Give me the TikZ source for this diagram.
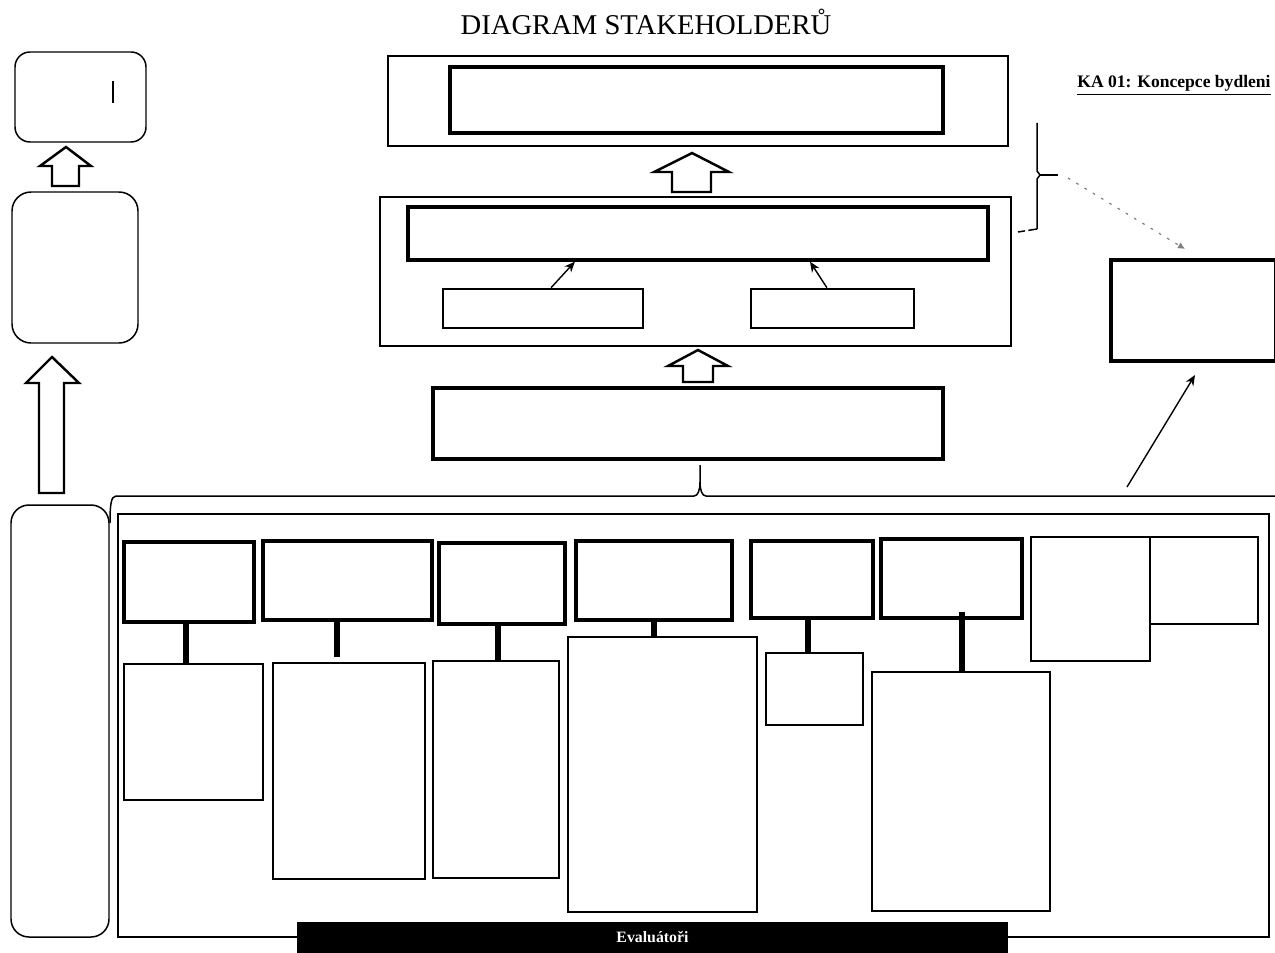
\documentclass[tikz,border=0pt]{standalone}
\usepackage{fontspec}
\setmainfont{Liberation Serif}
\usetikzlibrary{fit,calc,arrows.meta}
\begin{document}
\begin{tikzpicture}[x=0.02cm,y=-0.02cm,
 thinbox/.style={draw,line width=0.85pt,inner sep=0pt},
 thickbox/.style={draw,line width=1.9pt,inner sep=0pt},
 medbox/.style={draw,line width=1.5pt,inner sep=0pt},
 roundbox/.style={draw,line width=0.85pt,inner sep=0pt,rounded corners=0.3cm},
 blockarrow/.style={draw,line width=1.4pt,fill=white,line join=miter},
 conn/.style={line width=3pt},
 thinarrow/.style={line width=0.8pt,-{Stealth[length=6pt,width=5pt]}},
 thinline/.style={line width=0.85pt},
]
\useasboundingbox (0,0) rectangle (1275,953);

% title and label
\node[anchor=base,inner sep=0pt,font=\fontsize{16.3}{18}\selectfont] (title) at (646,35) {DIAGRAM STAKEHOLDERŮ};
\node[anchor=base west,inner sep=0pt,font=\bfseries\fontsize{10}{12}\selectfont] (ka) at (1077,88) {\underline{KA 01: Koncepce bydleni}};

% left column
\node[roundbox,rounded corners=0.3cm,fit={(15,52)(146,142)}] (lb1) {};
\draw[line width=1.1pt] (113,81) -- (113,103);
\draw[blockarrow] (66,147) -- (91,166) -- (79,166) -- (79,186) -- (52,186) -- (52,166) -- (40,166) -- cycle;
\node[roundbox,rounded corners=0.38cm,fit={(12,192)(138,343)}] (lb2) {};
\draw[blockarrow] (52,357) -- (79,383) -- (64,383) -- (64,493) -- (39,493) -- (39,383) -- (26,383) -- cycle;
\node[roundbox,rounded corners=0.36cm,fit={(11,505)(109,937)}] (lb3) {};

% center column
\node[thinbox,fit={(388,56)(1008,146)}] (top) {};
\node[thickbox,fit={(450,67)(943,133)}] (topin) {};
\draw[blockarrow] (692,153) -- (729,172) -- (711,172) -- (711,192) -- (672,192) -- (672,172) -- (654,172) -- cycle;
\node[thinbox,fit={(380,197)(1011,346)}] (mid) {};
\node[thickbox,fit={(408,207)(988,260)}] (wide) {};
\node[medbox,fit={(443,289)(643,328)}] (s1) {};
\node[medbox,fit={(751,289)(914,328)}] (s2) {};
\draw[thinarrow] ($(s1.north west)!0.54!(s1.north east)$) -- ($(wide.south west)!0.289!(wide.south east)$);
\draw[thinarrow] ($(s2.north west)!0.466!(s2.north east)$) -- ($(wide.south west)!0.692!(wide.south east)$);
\draw[blockarrow] (698,350) -- (728,366) -- (713,366) -- (713,382) -- (683,382) -- (683,366) -- (668,366) -- cycle;
\node[thickbox,fit={(433,388)(943,459)}] (base) {};

% brace under base box
\coordinate (tip) at (700,465);
\draw[thinline] (110,523) .. controls (110,505) and (111,496) .. (116,496) -- (694,496) .. controls (698,496) and (700,490) .. (700,482) -- (tip);
\draw[thinline] (700,482) .. controls (700,490) and (702,496) .. (706,496) -- (1275,496);

% right side
\node[thickbox,fit={(1111,260)(1276,361)}] (rbox) {};
\coordinate (ra) at (1127,487);
\coordinate (rb) at (1195,375);
\draw[thinarrow] (ra) -- (rb);
\draw[thinline] (1037,123) -- (1037,171) -- (1040,175) -- (1037,179) -- (1037,229);
\draw[thinline] (1040,175) -- (1058,175);
\draw[thinline,dash pattern=on 5pt off 2pt] (1037,229) -- (1018,232);
\coordinate (da) at (1068,178);
\coordinate (db) at (1185,249);
\draw[gray,line width=0.7pt,dash pattern=on 1.5pt off 4pt,-{Latex[length=4pt,width=4pt]}] (da) -- (db);

% bottom big box
\node[draw,line width=1.1pt,inner sep=0pt,fit={(118,514)(1269,937)}] (big) {};
\node[thickbox,fit={(124,542)(254,622)}] (b1) {};
\node[thickbox,fit={(263,541)(432,620)}] (b2) {};
\node[thickbox,fit={(439,543)(565,624)}] (b3) {};
\node[thickbox,fit={(576,541)(732,620)}] (b4) {};
\node[thickbox,fit={(751,541)(873,618)}] (b5) {};
\node[thickbox,fit={(881,539)(1022,618)}] (b6) {};
\node[medbox,fit={(1031,537)(1150,661)}] (b7) {};
\node[medbox,fit={(1150,537)(1258,624)}] (b8) {};

\node[medbox,fit={(124,664)(263,800)}] (l1) {};
\node[medbox,fit={(273,663)(425,879)}] (l2) {};
\node[medbox,fit={(433,661)(559,878)}] (l3) {};
\node[medbox,fit={(568,637)(757,912)}] (l4) {};
\node[medbox,fit={(766,653)(863,725)}] (l5) {};
\node[medbox,fit={(872,672)(1050,911)}] (l6) {};

\draw[conn] ([xshift=-0.06cm]b1.south) -- ([xshift=-0.06cm]b1.south |- l1.north);
\draw[conn] ([xshift=-0.21cm]b2.south) -- ([xshift=-0.21cm,yshift=0.1cm]b2.south |- l2.north);
\draw[conn] ([xshift=-0.08cm]b3.south) -- ([xshift=-0.08cm]b3.south |- l3.north);
\draw[conn] (b4.south) -- (b4.south |- l4.north);
\draw[conn] ([xshift=-0.08cm]b5.south) -- ([xshift=-0.08cm]b5.south |- l5.north);
\draw[conn] ([xshift=0.21cm,yshift=0.16cm]b6.south) -- ([xshift=0.21cm]b6.south |- l6.north);

\node[fill=black,text=white,inner sep=0pt,font=\bfseries\fontsize{9}{11}\selectfont,fit={(297,922)(1008,953)}] (bar) {};
\node[text=white,inner sep=0pt,font=\bfseries\fontsize{9}{11}\selectfont] (evl) at (bar.center) {Evaluátoři};
\end{tikzpicture}
\end{document}
